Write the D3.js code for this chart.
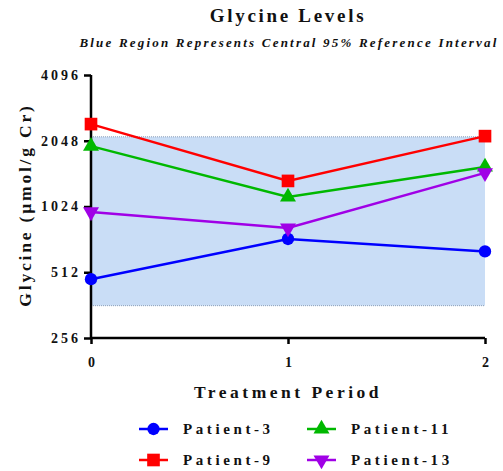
<!DOCTYPE html>
<html lang="en">
<head>
<meta charset="UTF-8">
<title>Glycine Levels</title>
<style>
  body { margin: 0; background: #fff; }
  text { font-family: "Liberation Serif", "Times New Roman", serif; font-weight: bold; fill: #111; }
</style>
</head>
<body>
<div id="chart"></div>
<script src="https://d3js.org/d3.v7.min.js"></script>
<script>
// data
const periods = [0, 1, 2];
const yTicks = [256, 512, 1024, 2048, 4096];
const refBand = [360, 2135];   // central 95% reference interval
const patient3 = [476, 727, 638];
const patient9 = [2441, 1341, 2150];
const patient11 = [1935, 1132, 1553];
const patient13 = [967, 816, 1459];

const series = [
  { name: "Patient-3", values: patient3, color: "#0000ff", symbol: d3.symbolCircle, size: 120, rot: 0 },
  { name: "Patient-9", values: patient9, color: "#ff0000", symbol: d3.symbolSquare, size: 160, rot: 0 },
  { name: "Patient-11", values: patient11, color: "#00b800", symbol: d3.symbolTriangle, size: 110, rot: 0 },
  { name: "Patient-13", values: patient13, color: "#a000e6", symbol: d3.symbolTriangle, size: 110, rot: 180 }
];

const W = 503, H = 471;
const svg = d3.select("#chart").append("svg").attr("width", W).attr("height", H);

const x = d3.scaleLinear().domain([0, 2]).range([91, 485]);
const y = d3.scaleLog().base(2).domain([256, 4096]).range([338, 75]);

// reference band
svg.append("rect")
  .attr("x", x(0)).attr("width", x(2) - x(0))
  .attr("y", y(refBand[1])).attr("height", y(refBand[0]) - y(refBand[1]))
  .attr("fill", "#c9ddf6");
[refBand[0], refBand[1]].forEach(v => {
  svg.append("line")
    .attr("x1", x(0)).attr("x2", x(2))
    .attr("y1", y(v)).attr("y2", y(v))
    .attr("stroke", "#8a9fb8").attr("stroke-width", 1)
    .attr("stroke-dasharray", "1,1");
});

// axes
const yAxis = svg.append("g").attr("transform", `translate(${x(0)},0)`)
  .call(d3.axisLeft(y).tickValues(yTicks).tickFormat(d3.format("d")).tickSize(7).tickPadding(3));
const xAxis = svg.append("g").attr("transform", `translate(0,${y(256)})`)
  .call(d3.axisBottom(x).tickValues(periods).tickFormat(d3.format("d")).tickSize(6).tickPadding(13));
[yAxis, xAxis].forEach(a => {
  a.select(".domain").attr("stroke", "#000").attr("stroke-width", 2.5);
  a.selectAll(".tick line").attr("stroke", "#000").attr("stroke-width", 2.5);
  a.selectAll(".tick text").style("font-family", "'Liberation Serif', serif")
    .style("font-weight", "bold").style("font-size", "14px")
    .attr("fill", "#111");
});
yAxis.selectAll(".tick text").style("letter-spacing", "3px");
// plain domain lines without end caps
yAxis.select(".domain").attr("d", `M0,${y(4096)}V${y(256)}`);
xAxis.select(".domain").attr("d", `M${x(0)},0H${x(2)}`);

// lines and markers
const line = d3.line().x((d, i) => x(periods[i])).y(d => y(d));
series.forEach(s => {
  svg.append("path").datum(s.values)
    .attr("d", line).attr("fill", "none")
    .attr("stroke", s.color).attr("stroke-width", 2.5);
  svg.selectAll(null).data(s.values).enter().append("path")
    .attr("d", d3.symbol().type(s.symbol).size(s.size))
    .attr("transform", (d, i) => `translate(${x(periods[i])},${y(d)}) rotate(${s.rot})`)
    .attr("fill", s.color);
});

// titles
svg.append("text").attr("x", 288).attr("y", 22).attr("text-anchor", "middle")
  .style("font-size", "19px").style("letter-spacing", "2.7px").text("Glycine Levels");
svg.append("text").attr("x", 289).attr("y", 47).attr("text-anchor", "middle")
  .style("font-size", "13px").style("font-style", "italic").style("letter-spacing", "2.2px")
  .text("Blue Region Represents Central 95% Reference Interval");
svg.append("text").attr("transform", "translate(31,205) rotate(-90)").attr("text-anchor", "middle")
  .style("font-size", "17.5px").style("letter-spacing", "2.8px").text("Glycine (µmol/g Cr)");
svg.append("text").attr("x", 288).attr("y", 398).attr("text-anchor", "middle")
  .style("font-size", "17.5px").style("letter-spacing", "3.5px").text("Treatment Period");

// legend
const legendPos = [[139, 429], [139, 460], [307, 429], [307, 460]];
series.forEach((s, i) => {
  const [lx, ly] = legendPos[i];
  const g = svg.append("g").attr("transform", `translate(${lx},${ly})`);
  g.append("line").attr("x1", 0).attr("x2", 29).attr("stroke", s.color).attr("stroke-width", 2.5);
  g.append("path").attr("d", d3.symbol().type(s.symbol).size(s.size))
    .attr("transform", `translate(14.5,0) rotate(${s.rot})`).attr("fill", s.color);
  g.append("text").attr("x", 44).attr("y", 5)
    .style("font-size", "15px").style("letter-spacing", "3.6px").text(s.name);
});
</script>
</body>
</html>
